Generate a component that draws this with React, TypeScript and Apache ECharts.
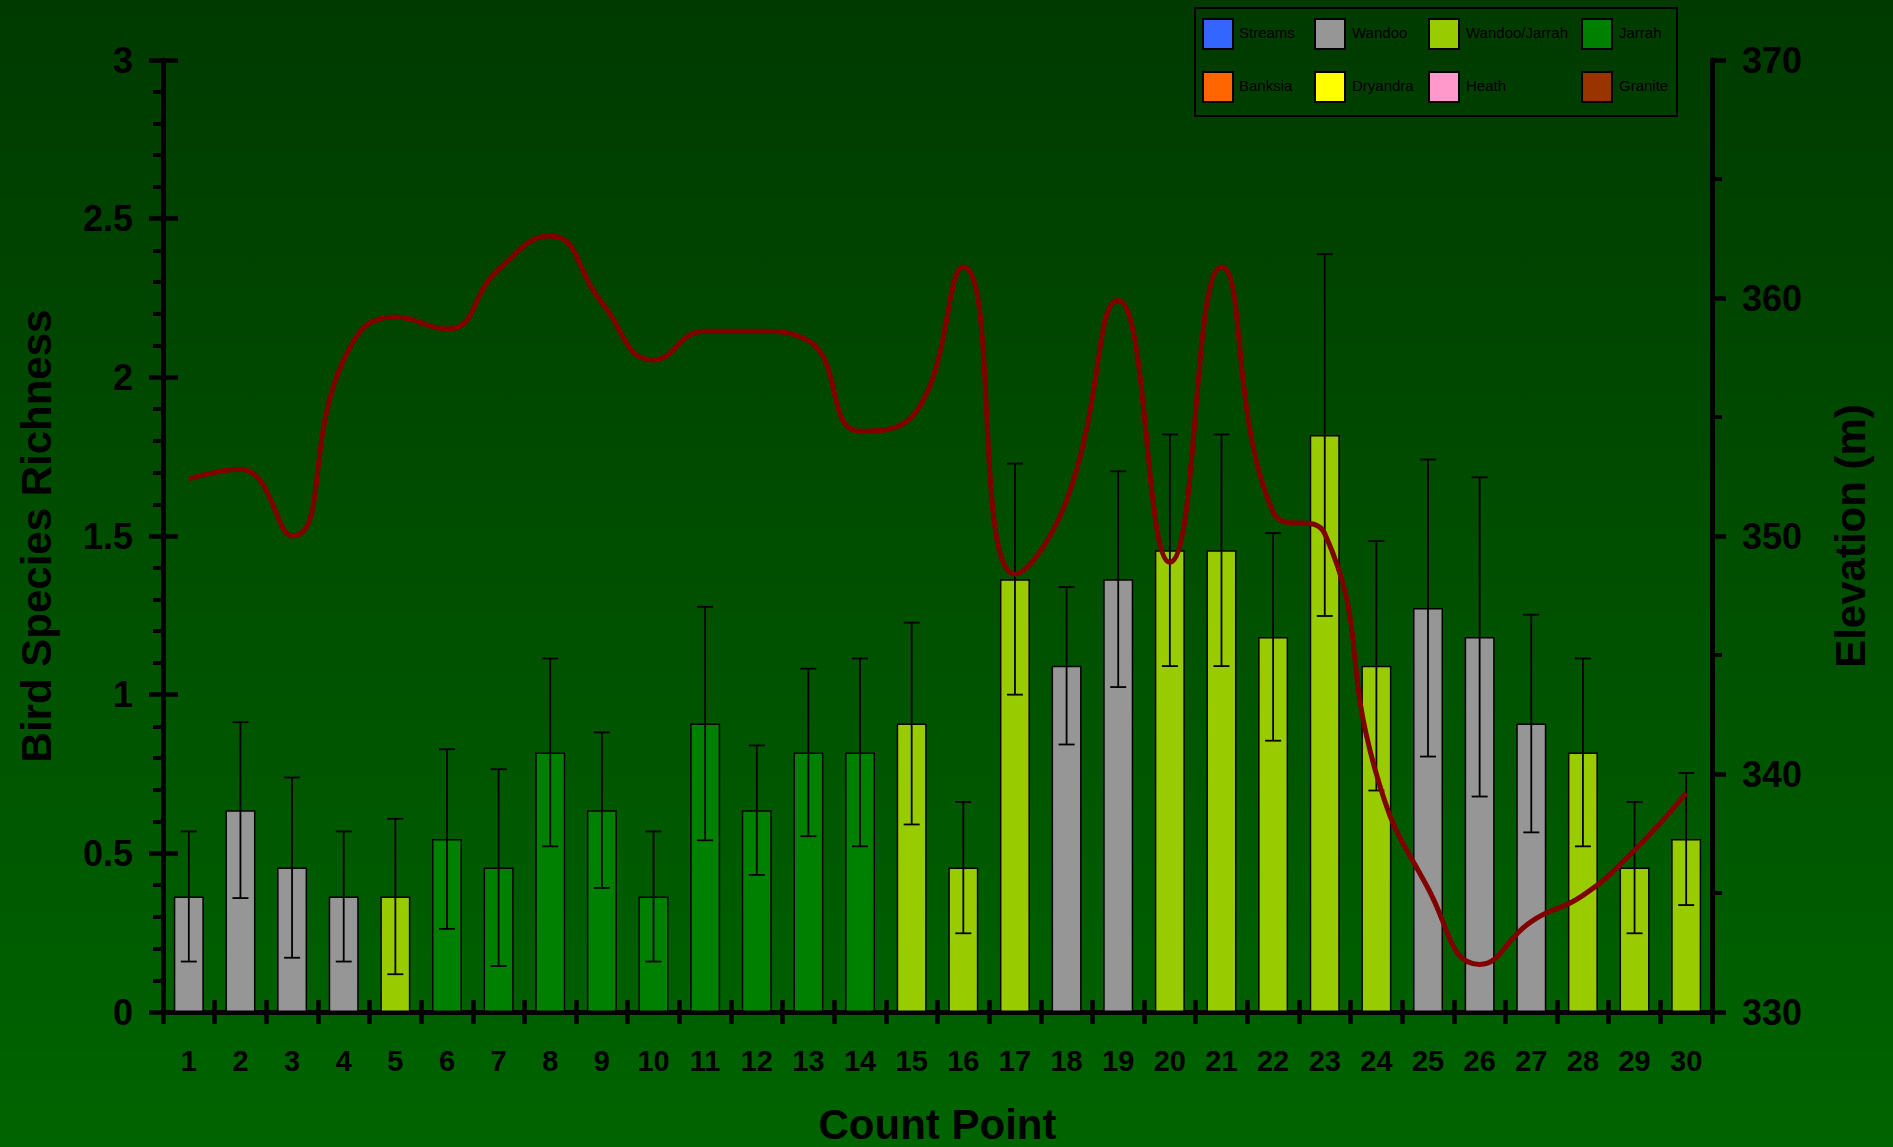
import React, { useEffect, useRef } from "react";
import * as echarts from "echarts";

// Count points along the transect
const countPoints = [
  "1", "2", "3", "4", "5", "6", "7", "8", "9", "10",
  "11", "12", "13", "14", "15", "16", "17", "18", "19", "20",
  "21", "22", "23", "24", "25", "26", "27", "28", "29", "30",
];

// Habitat type of each count point
const habitatAtPoint = [
  "Wandoo", "Wandoo", "Wandoo", "Wandoo", "Wandoo/Jarrah",
  "Jarrah", "Jarrah", "Jarrah", "Jarrah", "Jarrah",
  "Jarrah", "Jarrah", "Jarrah", "Jarrah", "Wandoo/Jarrah",
  "Wandoo/Jarrah", "Wandoo/Jarrah", "Wandoo", "Wandoo", "Wandoo/Jarrah",
  "Wandoo/Jarrah", "Wandoo/Jarrah", "Wandoo/Jarrah", "Wandoo/Jarrah", "Wandoo",
  "Wandoo", "Wandoo", "Wandoo/Jarrah", "Wandoo/Jarrah", "Wandoo/Jarrah",
];

// Mean bird species richness per count point
const richnessMean = [
  0.364, 0.636, 0.455, 0.364, 0.364, 0.545, 0.455, 0.818, 0.636, 0.364,
  0.909, 0.636, 0.818, 0.818, 0.909, 0.455, 1.364, 1.091, 1.364, 1.455,
  1.455, 1.182, 1.818, 1.091, 1.273, 1.182, 0.909, 0.818, 0.455, 0.545,
];

// Standard error of richness per count point
const richnessSE = [
  0.205, 0.277, 0.284, 0.205, 0.245, 0.283, 0.31, 0.296, 0.245, 0.205,
  0.368, 0.204, 0.264, 0.296, 0.318, 0.207, 0.364, 0.248, 0.34, 0.365,
  0.365, 0.327, 0.57, 0.393, 0.468, 0.503, 0.343, 0.296, 0.207, 0.208,
];

// Elevation (m) at each count point
const elevation = [
  352.4, 352.8, 350.0, 357.4, 359.2, 358.7, 361.2, 362.6, 359.8, 357.4,
  358.6, 358.6, 358.2, 354.4, 355.0, 361.3, 348.4, 351.5, 359.9, 348.9,
  361.3, 351.0, 350.1, 340.0, 335.2, 332.0, 333.8, 334.9, 336.8, 339.2,
];

// Habitat legend
const habitatNames = [
  "Streams", "Wandoo", "Wandoo/Jarrah", "Jarrah",
  "Banksia", "Dryandra", "Heath", "Granite",
];
const habitatColors = [
  "#3366FF", "#969696", "#99CC00", "#008000",
  "#FF6600", "#FFFF00", "#FF99CC", "#993300",
];

// Axis tick settings
const richnessMin = 0;
const richnessMax = 3;
const richnessStep = 0.5;
const elevationMin = 330;
const elevationMax = 370;
const elevationStep = 10;

const FONT = "'Liberation Sans', Arial, Helvetica, sans-serif";

export default function App() {
  const ref = useRef<HTMLDivElement>(null);

  useEffect(() => {
    if (!ref.current) return;
    const chart = echarts.init(ref.current, null, { renderer: "svg" });

    const colorOf = (h: string) => habitatColors[habitatNames.indexOf(h)];

    const barData = richnessMean.map((v, i) => ({
      value: v,
      itemStyle: { color: colorOf(habitatAtPoint[i]) },
    }));
    const errData = richnessMean.map((v, i) => [i, v - richnessSE[i], v + richnessSE[i]]);

    // legend drawn as a framed box of swatches
    const colSwatchX = [1203, 1315, 1429, 1582];
    const colTextX = [1239, 1352, 1466, 1619];
    const rowSwatchY = [19, 72];
    const legendChildren: any[] = [
      {
        type: "rect",
        shape: { x: 1195, y: 8, width: 482, height: 108 },
        style: { fill: "transparent", stroke: "#000", lineWidth: 2 },
      },
    ];
    habitatNames.forEach((name, k) => {
      const c = k % 4;
      const r = Math.floor(k / 4);
      legendChildren.push({
        type: "rect",
        shape: { x: colSwatchX[c], y: rowSwatchY[r], width: 30, height: 30 },
        style: { fill: habitatColors[k], stroke: "#000", lineWidth: 2 },
      });
      legendChildren.push({
        type: "text",
        x: colTextX[c],
        y: rowSwatchY[r] + 13,
        style: {
          text: name,
          fill: "#000",
          font: `15px ${FONT}`,
          verticalAlign: "middle",
          align: "left",
        },
      });
    });

    const axisLineStyle = { color: "#000", width: 5 };
    const tickLineStyle = { color: "#000", width: 4.5 };

    const option: any = {
      animation: false,
      textStyle: { fontFamily: FONT },
      grid: { left: 163, right: 181, top: 60, bottom: 135, outerBoundsMode: "none", containLabel: false },
      graphic: legendChildren,
      xAxis: [
        {
          type: "category",
          data: countPoints,
          position: "bottom",
          axisLine: { onZero: false, lineStyle: axisLineStyle },
          axisTick: { show: true, inside: false, length: 12, lineStyle: tickLineStyle },
          axisLabel: { color: "#000", fontSize: 29, fontWeight: "bold", margin: 34, interval: 0 },
          name: "Count Point",
          nameLocation: "middle",
          nameGap: 92,
          nameTextStyle: { color: "#000", fontSize: 42, fontWeight: "bold", lineHeight: 40 },
          splitLine: { show: false },
        },
        {
          // inner half of the crossing category ticks
          type: "category",
          data: countPoints,
          position: "bottom",
          axisLine: { show: false, onZero: false },
          axisTick: { show: true, inside: true, length: 12, lineStyle: tickLineStyle },
          axisLabel: { show: false },
          splitLine: { show: false },
        },
      ],
      yAxis: [
        {
          type: "value",
          position: "left",
          min: richnessMin,
          max: richnessMax,
          interval: richnessStep,
          axisLine: { show: true, onZero: false, lineStyle: axisLineStyle },
          axisTick: { show: true, inside: false, length: 14, lineStyle: tickLineStyle },
          minorTick: { show: true, splitNumber: 5, length: 10, lineStyle: { color: "#000", width: 4 } },
          axisLabel: { color: "#000", fontSize: 36, fontWeight: "bold", margin: 30 },
          splitLine: { show: false },
          minorSplitLine: { show: false },
          name: "Bird Species Richness",
          nameLocation: "middle",
          nameRotate: 90,
          nameGap: 106,
          nameTextStyle: { color: "#000", fontSize: 42, fontWeight: "bold" },
        },
        {
          type: "value",
          position: "right",
          min: elevationMin,
          max: elevationMax,
          interval: elevationStep,
          axisLine: { show: true, onZero: false, lineStyle: axisLineStyle },
          axisTick: { show: true, inside: false, length: 14, lineStyle: tickLineStyle },
          minorTick: { show: true, splitNumber: 2, length: 10, lineStyle: { color: "#000", width: 4 } },
          axisLabel: { color: "#000", fontSize: 36, fontWeight: "bold", margin: 30 },
          splitLine: { show: false },
          name: "Elevation (m)",
          nameLocation: "middle",
          nameRotate: 90,
          nameGap: 117,
          nameTextStyle: { color: "#000", fontSize: 42, fontWeight: "bold" },
        },
        {
          // inner half of the crossing richness ticks
          type: "value",
          position: "left",
          min: richnessMin,
          max: richnessMax,
          interval: richnessStep,
          axisLine: { show: false, onZero: false },
          axisTick: { show: true, inside: true, length: 15, lineStyle: tickLineStyle },
          axisLabel: { show: false },
          splitLine: { show: false },
        },
      ],
      series: [
        {
          type: "bar",
          xAxisIndex: 0,
          yAxisIndex: 0,
          data: barData,
          barWidth: 30,
          itemStyle: { borderColor: "#000", borderWidth: 1.5 },
          z: 2,
        },
        {
          type: "custom",
          xAxisIndex: 0,
          yAxisIndex: 0,
          data: errData,
          encode: { x: 0, y: [1, 2] },
          z: 3,
          renderItem: (_params: any, api: any) => {
            const idx = api.value(0);
            const top = api.coord([idx, api.value(2)]);
            const bot = api.coord([idx, api.value(1)]);
            const hw = 8;
            const st = { stroke: "#000", lineWidth: 1.8 };
            return {
              type: "group",
              children: [
                { type: "line", shape: { x1: top[0], y1: top[1], x2: bot[0], y2: bot[1] }, style: st },
                { type: "line", shape: { x1: top[0] - hw, y1: top[1], x2: top[0] + hw, y2: top[1] }, style: st },
                { type: "line", shape: { x1: bot[0] - hw, y1: bot[1], x2: bot[0] + hw, y2: bot[1] }, style: st },
              ],
            };
          },
        },
        {
          type: "line",
          xAxisIndex: 0,
          yAxisIndex: 1,
          data: elevation,
          smooth: 0.5,
          symbol: "none",
          lineStyle: { color: "#800000", width: 5 },
          z: 4,
        },
      ],
    };

    chart.setOption(option);
    return () => chart.dispose();
  }, []);

  return (
    <div
      ref={ref}
      style={{
        position: "fixed",
        left: 0,
        top: 0,
        width: 1893,
        height: 1147,
        background: "linear-gradient(to bottom, #003a00 0%, #006400 100%)",
      }}
    />
  );
}
